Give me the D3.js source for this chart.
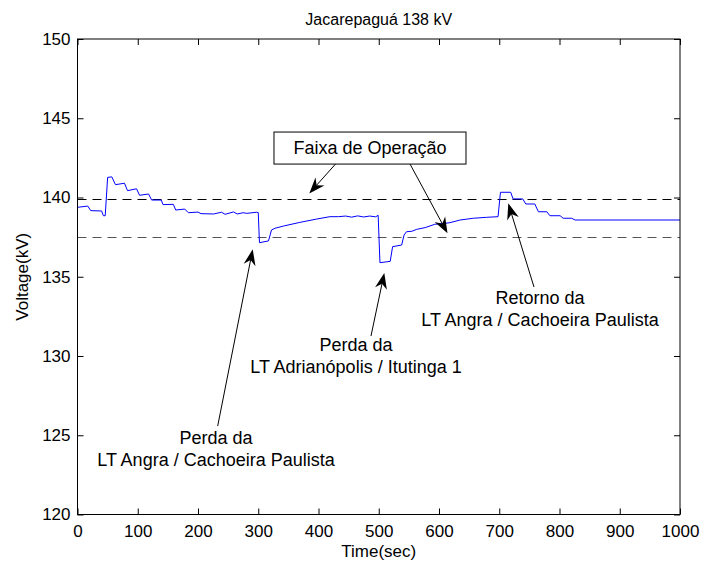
<!DOCTYPE html>
<html>
<head>
<meta charset="utf-8">
<script src="https://cdn.jsdelivr.net/npm/d3@7"></script>
<style>
  html, body { margin: 0; padding: 0; background: #fff; }
  svg { display: block; font-family: "Liberation Sans", Arial, sans-serif; }
</style>
</head>
<body>
<svg id="chart" width="704" height="568"></svg>
<script>
// Bus voltage at Jacarepaguá 138 kV over the simulation time
const timeSec = [0, 17, 22, 40, 43, 46, 50, 57, 63, 78, 83, 98, 103, 118, 123, 139, 142, 159, 163, 178,
  184, 200, 205, 226, 239, 245, 259, 265, 275, 281, 297, 300, 302, 317, 322, 328, 342, 369, 397, 419,
  433, 445, 455, 465, 475, 485, 495, 499, 502, 519, 523, 538, 542, 546, 555, 563, 577, 593, 610, 618,
  635, 657, 679, 698, 702, 719, 723, 739, 744, 759, 765, 779, 784, 801, 806, 820, 826, 1000];
const voltageKV = [139.38, 139.46, 139.17, 139.15, 138.85, 138.85, 141.27, 141.3, 140.81, 140.9, 140.43, 140.55, 140.14, 140.22, 139.84, 139.84, 139.55, 139.57, 139.21, 139.27,
  139.04, 139.08, 138.98, 138.96, 139.07, 138.94, 139.09, 138.96, 139.04, 139.0, 139.07, 139.05, 137.15, 137.26, 137.95, 138.06, 138.2, 138.43, 138.64, 138.79,
  138.79, 138.83, 138.76, 138.84, 138.77, 138.83, 138.78, 138.88, 135.89, 135.97, 136.9, 137.0, 137.63, 137.84, 137.87, 137.99, 138.1, 138.31, 138.37, 138.41,
  138.58, 138.69, 138.75, 138.79, 140.33, 140.33, 139.91, 139.91, 139.59, 139.59, 139.1, 139.1, 138.85, 138.85, 138.69, 138.69, 138.58, 138.58];

// Operating band limits (kV)
const bandLimits = [139.9, 137.5];

const xTicks = [0, 100, 200, 300, 400, 500, 600, 700, 800, 900, 1000];
const yTicks = [120, 125, 130, 135, 140, 145, 150];

// Annotation arrows: [tailT, tailV, tipT, tipV]
const arrows = [
  [428.2, 142.11, 384.7, 140.26],
  [551.9, 142.11, 614.1, 137.74],
  [757.7, 134.35, 715.0, 139.63],
  [487.1, 131.26, 509.2, 135.24],
  [232.7, 125.58, 290.8, 136.73]
];
// Annotation texts: [centerT, firstLineV, lines]
const notes = [
  [767.6, 133.66, ["Retorno da", "LT Angra / Cachoeira Paulista"]],
  [462.2, 130.69, ["Perda da", "LT Adrianópolis / Itutinga 1"]],
  [229.9, 124.83, ["Perda da", "LT Angra / Cachoeira Paulista"]]
];
// Labelled box: [leftT, rightT, topV, bottomV, text]
const bandBox = [326.1, 644.8, 144.13, 142.11, "Faixa de Operação"];

const svg = d3.select("#chart");
svg.append("rect").attr("width", 704).attr("height", 568).attr("fill", "#fff");

const L = 77.5, R = 680, T = 39, B = 514.5;
const x = d3.scaleLinear().domain([0, 1000]).range([L, R]);
const y = d3.scaleLinear().domain([120, 150]).range([B, T]);

// Axes with inward ticks on all four sides
const tk = 6;
const fmt = d3.format("d");
const g = svg.append("g");
g.append("g").attr("transform", `translate(0,${B})`)
  .call(d3.axisBottom(x).tickValues(xTicks).tickFormat(fmt).tickSizeInner(-tk).tickSizeOuter(0).tickPadding(10));
g.append("g").attr("transform", `translate(0,${T})`)
  .call(d3.axisTop(x).tickValues(xTicks).tickSizeInner(-tk).tickSizeOuter(0).tickFormat(""));
g.append("g").attr("transform", `translate(${L},0)`)
  .call(d3.axisLeft(y).tickValues(yTicks).tickFormat(fmt).tickSizeInner(-tk).tickSizeOuter(0).tickPadding(7));
g.append("g").attr("transform", `translate(${R},0)`)
  .call(d3.axisRight(y).tickValues(yTicks).tickSizeInner(-tk).tickSizeOuter(0).tickFormat(""));
g.selectAll(".domain").remove();
g.selectAll(".tick line").attr("stroke", "#000");
g.selectAll(".tick text").attr("font-size", 17).attr("fill", "#000")
  .attr("font-family", "'Liberation Sans', Arial, sans-serif");

// Band limits
svg.selectAll(".band").data(bandLimits).enter().append("line")
  .attr("x1", L).attr("x2", R)
  .attr("y1", d => Math.round(y(d)) + 0.5).attr("y2", d => Math.round(y(d)) + 0.5)
  .attr("stroke", (d, i) => i === 0 ? "#000" : "#555")
  .attr("stroke-width", 1)
  .attr("stroke-dasharray", "9,6");

// Voltage trace
const series = timeSec.map((t, i) => [t, voltageKV[i]]);
svg.append("path").datum(series)
  .attr("fill", "none").attr("stroke", "#0000ff").attr("stroke-width", 1)
  .attr("d", d3.line().x(d => x(d[0])).y(d => y(d[1])));

// Plot frame
svg.append("rect").attr("x", L).attr("y", T).attr("width", R - L).attr("height", B - T)
  .attr("fill", "none").attr("stroke", "#000").attr("stroke-width", 1);

// Arrows with concave heads
const headLen = 16, headHalf = 6, headBack = 11;
arrows.forEach(a => {
  const x0 = x(a[0]), y0 = y(a[1]), x1 = x(a[2]), y1 = y(a[3]);
  const ang = Math.atan2(y1 - y0, x1 - x0);
  const ux = Math.cos(ang), uy = Math.sin(ang);
  const px = -uy, py = ux;
  svg.append("line").attr("x1", x0).attr("y1", y0)
    .attr("x2", x1 - ux * headBack).attr("y2", y1 - uy * headBack)
    .attr("stroke", "#000").attr("stroke-width", 1);
  const bx = x1 - ux * headLen, by = y1 - uy * headLen;
  const pts = [
    [x1, y1],
    [bx + px * headHalf, by + py * headHalf],
    [x1 - ux * headBack, y1 - uy * headBack],
    [bx - px * headHalf, by - py * headHalf]
  ];
  svg.append("path").attr("d", "M" + pts.map(p => p.join(",")).join("L") + "Z").attr("fill", "#000");
});

// Annotation texts
notes.forEach(n => {
  const t = svg.append("text").attr("x", x(n[0])).attr("y", y(n[1]))
    .attr("text-anchor", "middle").attr("dominant-baseline", "central")
    .attr("font-size", 18).attr("fill", "#000");
  n[2].forEach((s, i) => t.append("tspan").attr("x", x(n[0])).attr("dy", i === 0 ? 0 : 22).text(s));
});

// Labelled box
svg.append("rect")
  .attr("x", x(bandBox[0])).attr("y", y(bandBox[2]))
  .attr("width", x(bandBox[1]) - x(bandBox[0])).attr("height", y(bandBox[3]) - y(bandBox[2]))
  .attr("fill", "#fff").attr("stroke", "#000").attr("stroke-width", 1);
svg.append("text")
  .attr("x", (x(bandBox[0]) + x(bandBox[1])) / 2).attr("y", (y(bandBox[2]) + y(bandBox[3])) / 2)
  .attr("text-anchor", "middle").attr("dominant-baseline", "central")
  .attr("font-size", 18).attr("fill", "#000").text(bandBox[4]);

// Title and axis labels
svg.append("text").attr("x", (L + R) / 2).attr("y", 19)
  .attr("text-anchor", "middle").attr("dominant-baseline", "central")
  .attr("font-size", 16).text("Jacarepaguá 138 kV");
svg.append("text").attr("x", (L + R) / 2).attr("y", 551)
  .attr("text-anchor", "middle").attr("dominant-baseline", "central")
  .attr("font-size", 17).text("Time(sec)");
svg.append("text").attr("transform", `translate(22,${(T + B) / 2}) rotate(-90)`)
  .attr("text-anchor", "middle").attr("dominant-baseline", "central")
  .attr("font-size", 17).text("Voltage(kV)");
</script>
</body>
</html>
